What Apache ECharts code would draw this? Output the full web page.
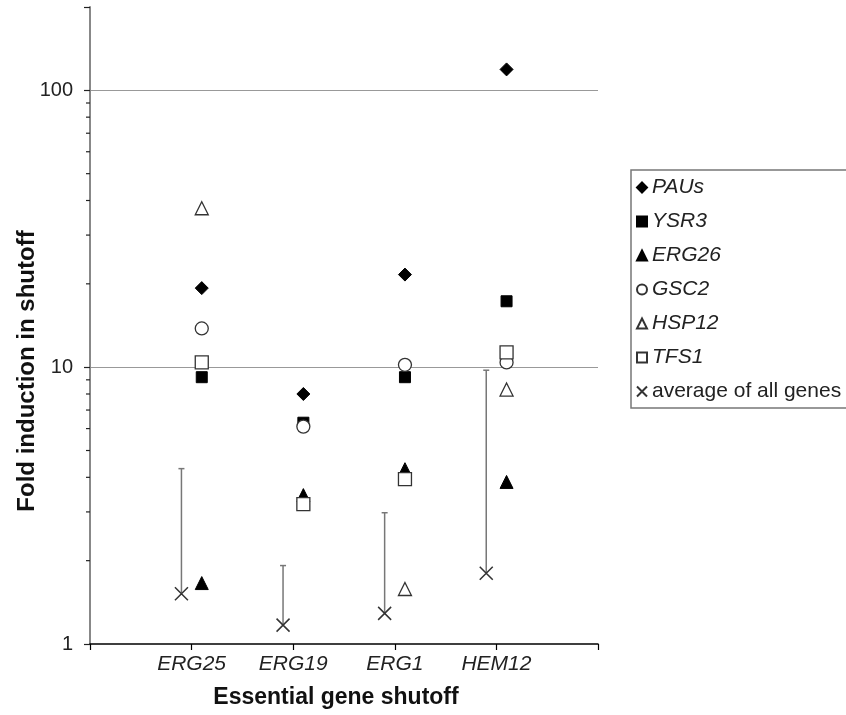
<!DOCTYPE html>
<html><head><meta charset="utf-8">
<script src="https://cdn.jsdelivr.net/npm/echarts@6/dist/echarts.min.js"></script>
<style>html,body{margin:0;padding:0;background:#fff}#c{width:846px;height:715px}</style>
</head><body><div id="c"></div>
<script>
// ---- data ----
const categories = ['ERG25', 'ERG19', 'ERG1', 'HEM12'];
const PAUs    = [19.3, 8.0, 21.6, 119];
const YSR3    = [9.2, 6.3, 9.2, 17.3];
const ERG26   = [1.66, 3.45, 4.28, 3.85];
const GSC2    = [13.8, 6.1, 10.2, 10.4];
const HSP12   = [37.5, null, 1.58, 8.3];
const TFS1    = [10.4, 3.2, 3.94, 11.3];
const average = [1.52, 1.17, 1.29, 1.80];
const averageTop = [4.3, 1.92, 2.98, 9.75];
const yTickLabels = [1, 10, 100];
const yMinorTicks = [2, 3, 4, 5, 6, 7, 8, 9, 20, 30, 40, 50, 60, 70, 80, 90];

// ---- helpers ----
const FONT = 'Liberation Sans, Arial, Helvetica, sans-serif';
const geneOffset = 0.1, avgOffset = -0.1;
function pts(vals, off) {
  const out = [];
  vals.forEach((v, i) => { if (v != null) out.push([i + 1 + off, v]); });
  return out;
}
const solid = { color: '#000', borderColor: '#000', borderWidth: 1, opacity: 1 };
const open = { color: '#fff', borderColor: '#333', borderWidth: 1.3, opacity: 1 };

function scatter(name, vals, symbol, size, style) {
  return { name, type: 'scatter', data: pts(vals, geneOffset), symbol, symbolSize: size,
    itemStyle: style, z: 5, emphasis: { disabled: true } };
}

const chart = echarts.init(document.getElementById('c'), null, { renderer: 'canvas' });
const option = {
  animation: false,
  backgroundColor: '#fff',
  grid: { left: 90, right: 248, top: 7, bottom: 71, containLabel: false },
  xAxis: {
    type: 'value', min: 0, max: 5, interval: 1,
    axisLine: { show: true, lineStyle: { color: '#000', width: 1.5 } },
    axisTick: { show: true, length: 6, lineStyle: { color: '#000', width: 1.2 } },
    axisLabel: {
      margin: 10, fontSize: 21, fontStyle: 'italic', color: '#222', fontFamily: FONT,
      formatter: v => (v >= 1 && v <= categories.length && Math.abs(v - Math.round(v)) < 1e-6) ? categories[Math.round(v) - 1] : ''
    },
    splitLine: { show: false }
  },
  yAxis: {
    type: 'log', logBase: 10, min: 1, max: 200,
    axisLine: { show: true, lineStyle: { color: '#888', width: 2 } },
    axisTick: { show: true, length: 6, lineStyle: { color: '#222', width: 1.2 } },
    axisLabel: {
      margin: 17, fontSize: 20, color: '#222', fontFamily: FONT,
      formatter: v => { const r = Math.round(v); return (yTickLabels.includes(r) && Math.abs(v - r) < 1e-6) ? String(r) : ''; }
    },
    splitLine: { show: true, showMinLine: false, showMaxLine: false, lineStyle: { color: '#999', width: 1.2 } },
    minorTick: { show: false }
  },
  legend: {
    orient: 'vertical', left: 636, top: 177, padding: 0,
    itemWidth: 10, itemHeight: 10, itemGap: 13,
    data: ['PAUs', 'YSR3', 'ERG26', 'GSC2', 'HSP12', 'TFS1', 'average of all genes'],
    textStyle: { fontSize: 21, lineHeight: 21, color: '#222', fontFamily: FONT,
      rich: {
        i: { fontSize: 21, fontStyle: 'italic', color: '#222', fontFamily: FONT },
        n: { fontSize: 21, color: '#222', fontFamily: FONT }
      } },
    formatter: name => name === 'average of all genes' ? '{n|' + name + '}' : '{i|' + name + '}',
    selectedMode: false
  },
  graphic: [
    { type: 'rect', shape: { x: 631, y: 170, width: 260, height: 238 },
      style: { fill: 'none', stroke: '#777', lineWidth: 1.5 }, silent: true },
    { type: 'text', x: 27, y: 371, rotation: Math.PI / 2,
      style: { text: 'Fold induction in shutoff', font: 'bold 24px ' + FONT, fill: '#111',
        textAlign: 'center', textVerticalAlign: 'middle' } },
    { type: 'text', x: 336, y: 698,
      style: { text: 'Essential gene shutoff', font: 'bold 23px ' + FONT, fill: '#111',
        textAlign: 'center', textVerticalAlign: 'middle' } }
  ],
  series: [
    scatter('PAUs', PAUs, 'diamond', 13, solid),
    scatter('YSR3', YSR3, 'rect', 11, solid),
    scatter('ERG26', ERG26, 'triangle', 13, solid),
    scatter('GSC2', GSC2, 'circle', 13, open),
    scatter('HSP12', HSP12, 'triangle', 13, open),
    scatter('TFS1', TFS1, 'rect', 13, open),
    {
      name: 'average of all genes', type: 'scatter', data: pts(average, avgOffset),
      symbol: 'path://M0,0L10,10M10,0L0,10', symbolSize: 13,
      itemStyle: { color: 'rgba(0,0,0,0)', borderColor: '#333', borderWidth: 1.5, opacity: 1 }, z: 6
    },
    {
      name: 'errorbars', type: 'custom', silent: true, z: 3,
      data: average.map((v, i) => [i + 1 + avgOffset, v, averageTop[i]]),
      encode: { x: 0, y: [1, 2] },
      renderItem: (params, api) => {
        const lo = api.coord([api.value(0), api.value(1)]);
        const hi = api.coord([api.value(0), api.value(2)]);
        const st = { stroke: '#777', lineWidth: 1.5 };
        return { type: 'group', children: [
          { type: 'line', shape: { x1: lo[0], y1: lo[1], x2: hi[0], y2: hi[1] }, style: st },
          { type: 'line', shape: { x1: hi[0] - 3, y1: hi[1], x2: hi[0] + 3, y2: hi[1] }, style: st }
        ] };
      }
    },
    {
      name: 'minorTicks', type: 'custom', silent: true, z: 2,
      data: yMinorTicks.map(v => [0, v]),
      encode: { x: 0, y: 1 },
      renderItem: (params, api) => {
        const p = api.coord([api.value(0), api.value(1)]);
        return { type: 'line', shape: { x1: p[0] - 4, y1: p[1], x2: p[0], y2: p[1] },
          style: { stroke: '#222', lineWidth: 1.2 } };
      }
    }
  ]
};
chart.setOption(option);
</script></body></html>
